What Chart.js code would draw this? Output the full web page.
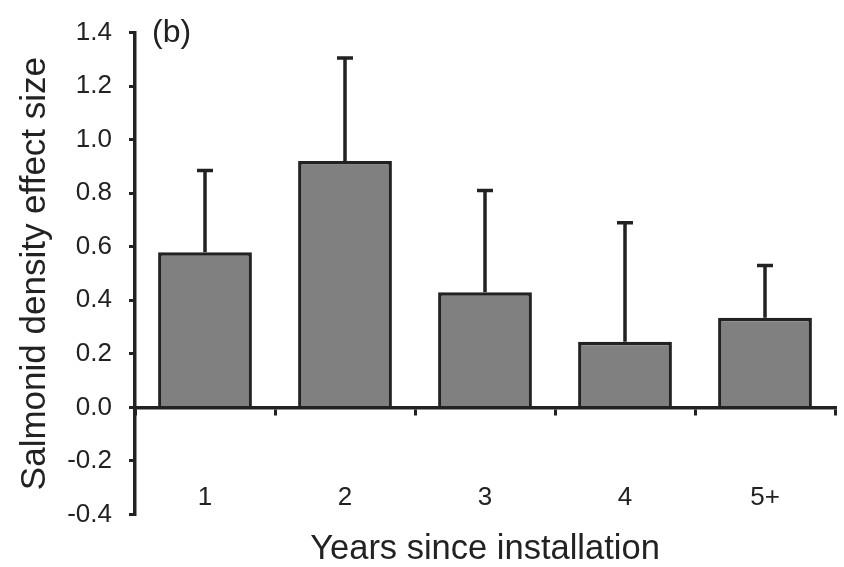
<!DOCTYPE html>
<html>
<head>
<meta charset="utf-8">
<script src="https://cdn.jsdelivr.net/npm/chart.js@4.4.0/dist/chart.umd.min.js"></script>
<style>
  body { margin: 0; background: #fff; }
  #wrap { width: 844px; height: 567px; }
</style>
</head>
<body>
<div id="wrap"><canvas id="effect_chart"></canvas></div>
<script>
/* Data */
const years = ['1', '2', '3', '4', '5+'];
const effectSize = [0.58, 0.92, 0.43, 0.245, 0.335];
const effectError = [0.305, 0.385, 0.38, 0.445, 0.195];
const yTicks = [-0.4, -0.2, 0, 0.2, 0.4, 0.6, 0.8, 1.0, 1.2, 1.4];

const ink = '#222222';
const fontFamily = '"Liberation Sans", Arial, sans-serif';

/* Error bars (upper side only) */
const errorBars = {
    id: 'errorBars',
    afterDatasetsDraw(chart) {
        const ctx = chart.ctx;
        const yScale = chart.scales.y;
        const meta = chart.getDatasetMeta(0);
        ctx.save();
        ctx.strokeStyle = ink;
        ctx.lineWidth = 3.5;
        meta.data.forEach((bar, i) => {
            const top = yScale.getPixelForValue(effectSize[i] + effectError[i]);
            ctx.beginPath();
            ctx.moveTo(bar.x, bar.y);
            ctx.lineTo(bar.x, top);
            ctx.moveTo(bar.x - 8, top);
            ctx.lineTo(bar.x + 8, top);
            ctx.stroke();
        });
        ctx.restore();
    }
};

/* Panel letter in the top left corner */
const panelLabel = {
    id: 'panelLabel',
    afterDraw(chart) {
        const ctx = chart.ctx;
        const area = chart.chartArea;
        ctx.save();
        ctx.fillStyle = ink;
        ctx.font = '32px ' + fontFamily;
        ctx.textBaseline = 'middle';
        ctx.fillText('(b)', area.left + 17, area.top + 1);
        ctx.restore();
    }
};

const effectData = {
    labels: years,
    datasets: [{
        data: effectSize,
        backgroundColor: '#808080',
        borderColor: ink,
        borderWidth: 3.5,
        barPercentage: 0.67,
        categoryPercentage: 1.0
    }]
};

const effectOptions = {
    responsive: true,
    maintainAspectRatio: false,
    animation: false,
    layout: {
        padding: { top: 27, right: 9, bottom: 0, left: 0 }
    },
    scales: {
        x: {
            position: { y: 0 },
            z: 1,
            // the big label padding should not eat into the side margins
            afterFit: scale => {
                scale.paddingLeft = 0;
                scale.paddingRight = 0;
            },
            border: { display: true, color: ink, width: 3.5 },
            grid: {
                offset: true,
                drawOnChartArea: false,
                drawTicks: true,
                tickLength: 6,
                lineWidth: 3,
                color: ink
            },
            ticks: {
                padding: 69,
                maxRotation: 0,
                color: ink,
                font: { family: fontFamily, size: 26 }
            }
        },
        y: {
            min: -0.4,
            max: 1.4,
            afterBuildTicks: scale => {
                scale.ticks = yTicks.map(v => ({ value: v }));
            },
            afterFit: scale => {
                scale.width = 135;
            },
            border: { display: true, color: ink, width: 3.5 },
            grid: {
                drawOnChartArea: false,
                drawTicks: true,
                tickLength: 6,
                lineWidth: 3,
                color: ink
            },
            ticks: {
                padding: 17,
                color: ink,
                font: { family: fontFamily, size: 26 },
                callback: v => (Math.round(v * 10) / 10).toFixed(1)
            },
            title: {
                display: true,
                text: 'Salmonid density effect size',
                color: ink,
                font: { family: fontFamily, size: 35 },
                padding: { top: 14, bottom: 0 }
            }
        }
    },
    plugins: {
        legend: { display: false },
        tooltip: { enabled: false },
        title: {
            display: true,
            text: 'Years since installation',
            position: 'bottom',
            fullSize: false,
            color: ink,
            font: { family: fontFamily, size: 34.5, weight: 'normal', lineHeight: 1 },
            padding: { top: 18, bottom: 0 }
        }
    }
};

const effectChart = new Chart(document.getElementById('effect_chart'), {
    type: 'bar',
    data: effectData,
    options: effectOptions,
    plugins: [errorBars, panelLabel]
});
</script>
</body>
</html>
